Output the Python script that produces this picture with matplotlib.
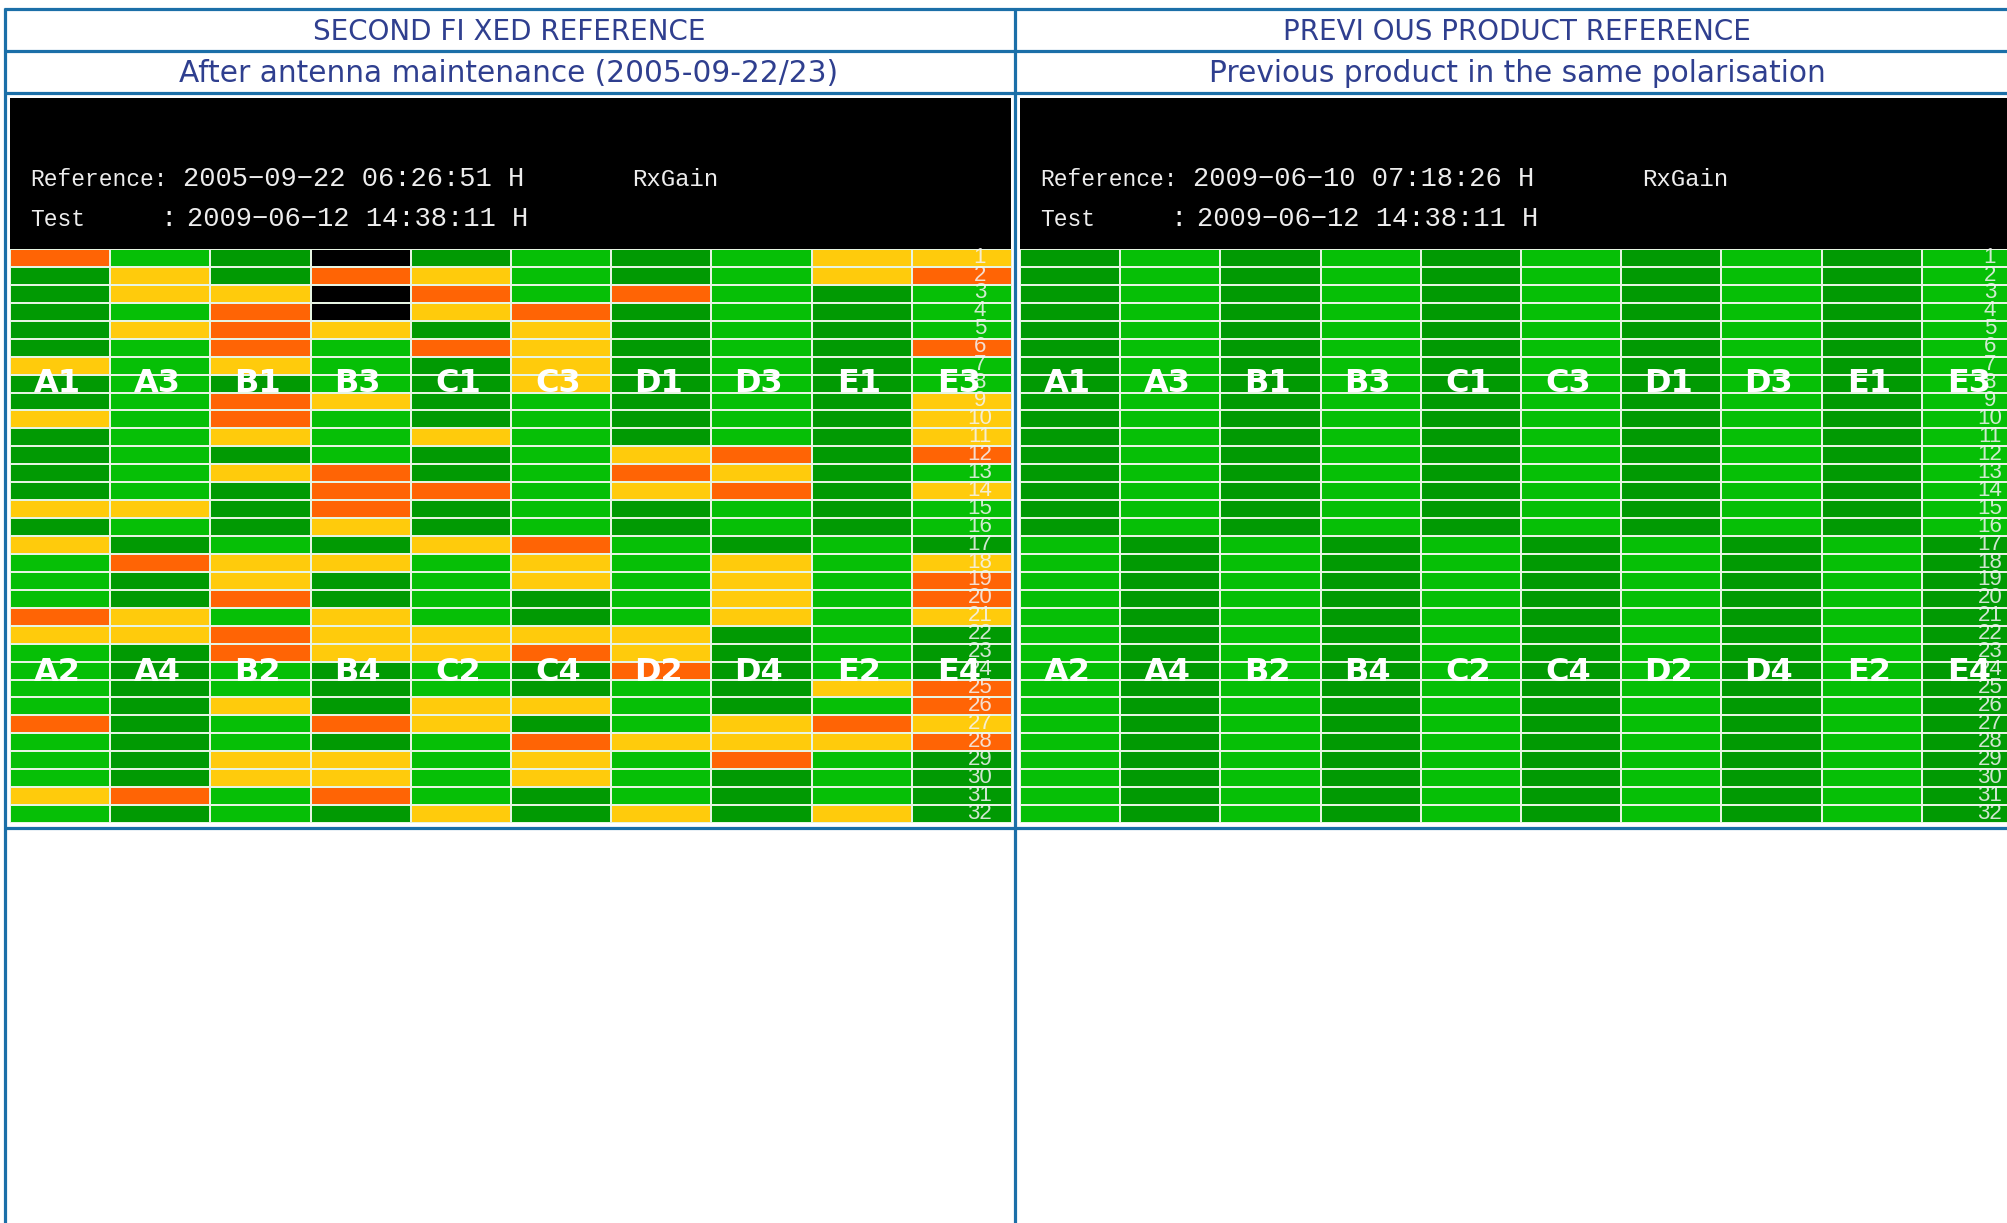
import numpy as np
import matplotlib
matplotlib.use("Agg")
import matplotlib.pyplot as plt
from matplotlib.colors import ListedColormap

W, H = 2007, 1223

# cell codes: k = no data, d = dark green, l = light green, y = yellow, o = orange
codes = "kdlyo"
cell_colors = ["#000000", "#019A03", "#06BF06", "#FFCB0C", "#FF6405"]

labels_top = ["A1", "A3", "B1", "B3", "C1", "C3", "D1", "D3", "E1", "E3"]
labels_bottom = ["A2", "A4", "B2", "B4", "C2", "C4", "D2", "D4", "E2", "E4"]
row_labels = [str(i) for i in range(1, 33)]

# one string per column, rows 1-16
second_top = [
    "odddddyddyddddyd",
    "lyylylllllllllyl",
    "ddyoooydooydyddd",
    "kokkylllyllloooy",
    "dyoydoddddyddodd",
    "llloyyyyllllllll",
    "ddoddddddddyoydd",
    "llllllllllloyoll",
    "yydddddddddddddd",
    "yolllollyyyolyll",
]
# rows 17-32
second_bottom = [
    "ylllo" + "yllll" + "olll" + "yl",
    "doddyyddddddddod",
    "lyyoloollyllyyll",
    "dyddyyydddodyyod",
    "yllllyyllyylllly",
    "oyyddyoddydoyydd",
    "lllllyyolllyllly",
    "dyyyydddddyyoddd",
    "llllllllyloyllly",
    "dyooydddooyodddd",
]
previous_top = ["d" * 16, "l" * 16] * 5
previous_bottom = ["l" * 16, "d" * 16] * 5

headers = ["SECOND FI XED REFERENCE", "PREVI OUS PRODUCT REFERENCE"]
subheaders = ["After antenna maintenance (2005-09-22/23)",
              "Previous product in the same polarisation"]
ref_dates = ["2005\u221209\u221222 06:26:51 H", "2009\u221206\u221210 07:18:26 H"]
test_date = "2009\u221206\u221212 14:38:11 H"


def pixel_axes(fig, x0, y0, x1, y1):
    # axes placed by pixel box, y measured from the top
    return fig.add_axes([x0 / W, 1 - y1 / H, (x1 - x0) / W, (y1 - y0) / H])


def draw_panel(fig, overlay, x0, black_x1, top, bottom, ref_date):
    overlay.fill_between([x0, black_x1], 98, 249, color="black", lw=0)

    # caption lines inside the black band
    small = dict(color="#EDEDED", family="Liberation Mono", va="center")
    overlay.text(x0 + 20, 179, "Reference:", fontsize=16.5, **small)
    overlay.text(x0 + 173, 179, ref_date, fontsize=19.5, **small)
    overlay.text(x0 + 622, 179, "RxGain", fontsize=17.3, **small)
    overlay.text(x0 + 20, 219, "Test", fontsize=16.5, **small)
    overlay.text(x0 + 150, 219, ":", fontsize=19.5, **small)
    overlay.text(x0 + 177, 219, test_date, fontsize=19.5, **small)

    ax = pixel_axes(fig, x0, 249, x0 + 1002, 823)
    values = np.array([[codes.index(c) for c in t + b]
                       for t, b in zip(top, bottom)]).T
    ax.pcolormesh(np.arange(11), np.arange(33), values,
                  cmap=ListedColormap(cell_colors), vmin=0, vmax=4,
                  edgecolors="#E6F4E2", linewidth=1.2)
    ax.set_xlim(0, 10)
    ax.set_ylim(32, 0)
    ax.axis("off")

    for r, lab in enumerate(row_labels):
        ax.text(9.68, r + 0.45, lab, color="#F4F4F4", fontsize=16, alpha=0.85,
                ha="center", va="center",
                family=["Liberation Sans Narrow", "Liberation Sans"])
    for i in range(len(top)):
        ax.text(i + 0.47, 7.5, labels_top[i], color="white", fontsize=23,
                fontweight="bold", ha="center", va="center",
                family="DejaVu Sans", clip_on=False)
        ax.text(i + 0.47, 23.6, labels_bottom[i], color="white", fontsize=23,
                fontweight="bold", ha="center", va="center",
                family="DejaVu Sans", clip_on=False)


fig = plt.figure(figsize=(W / 100, H / 100), dpi=100, facecolor="white")

overlay = pixel_axes(fig, 0, 0, W, H)
overlay.set_xlim(0, W)
overlay.set_ylim(H, 0)
overlay.axis("off")

draw_panel(fig, overlay, 10, 1011, second_top, second_bottom, ref_dates[0])
draw_panel(fig, overlay, 1020, W, previous_top, previous_bottom, ref_dates[1])

# table rules
blue = "#1B6FA8"
for y in [9, 51, 93, 828]:
    overlay.plot([4, W], [y, y], color=blue, lw=2.3, solid_capstyle="butt")
for x in [5, 1015]:
    overlay.plot([x, x], [8, H], color=blue, lw=2.3, solid_capstyle="butt")

# table headers
text_blue = "#2F3F8F"
for cx, head, sub in zip([509, 1517], headers, subheaders):
    overlay.text(cx, 32, head, color=text_blue, fontsize=20, ha="center",
                 va="center", family="DejaVu Sans")
    overlay.text(cx, 74, sub, color=text_blue, fontsize=21.3, ha="center",
                 va="center", family="DejaVu Sans")

fig.savefig("out.png", dpi=100, facecolor="white")
